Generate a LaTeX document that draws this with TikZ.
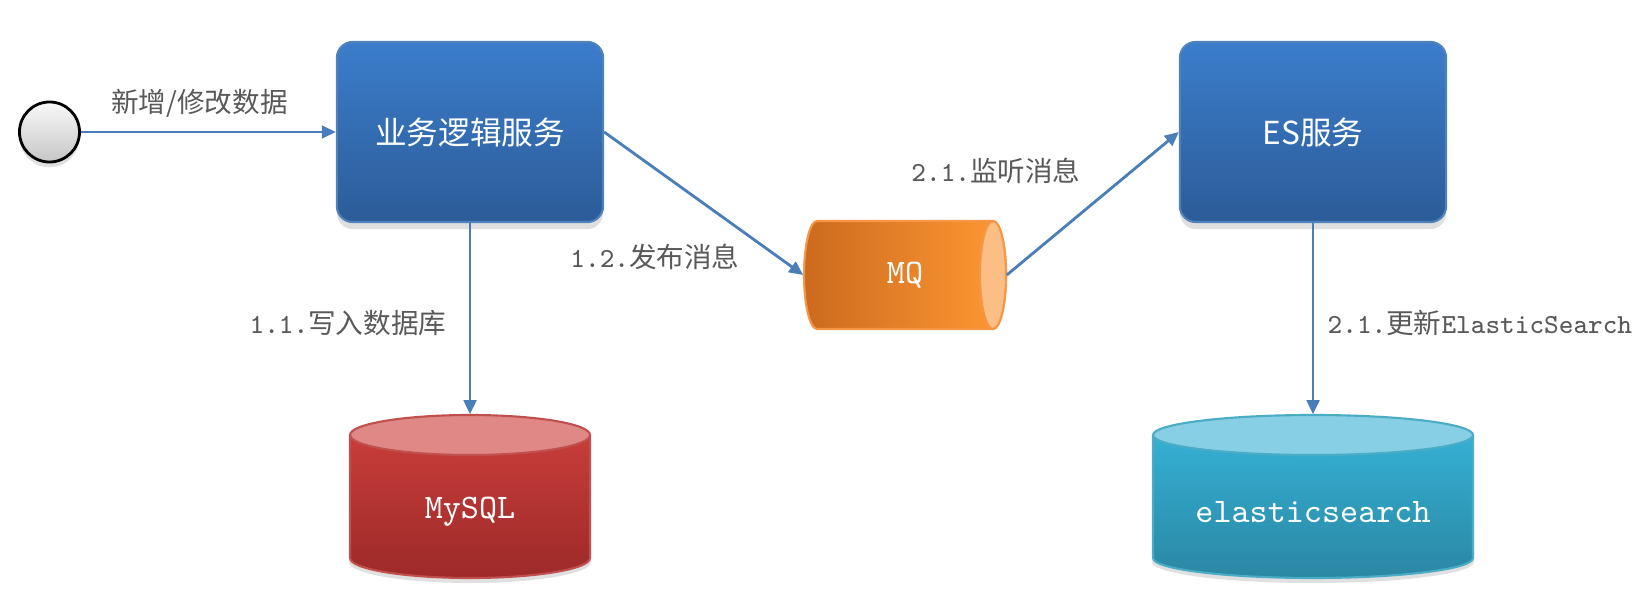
\documentclass[tikz,border=0pt]{standalone}
\usepackage{fontspec}
\newfontfamily\cjk{Noto Sans CJK SC}
\usetikzlibrary{arrows.meta,shadows}

\definecolor{linkblue}{HTML}{4A7EBB}
\definecolor{labelgray}{HTML}{595959}
\definecolor{svctop}{HTML}{3B7DCB}
\definecolor{svcbot}{HTML}{2C5C98}
\definecolor{svcline}{HTML}{4F81BD}
\definecolor{mqleft}{HTML}{CB6A1E}
\definecolor{mqright}{HTML}{FF9933}
\definecolor{mqcap}{HTML}{FBBF86}
\definecolor{mqline}{HTML}{F79646}
\definecolor{sqltop}{HTML}{C83D3A}
\definecolor{sqlbot}{HTML}{9C2A29}
\definecolor{sqlcap}{HTML}{E08886}
\definecolor{sqlline}{HTML}{C0504D}
\definecolor{esdbtop}{HTML}{35B0D4}
\definecolor{esdbbot}{HTML}{2A87A3}
\definecolor{esdbcap}{HTML}{86CFE5}
\definecolor{esdbline}{HTML}{4BACC6}

\begin{document}
\begin{tikzpicture}[x=0.01cm, y=0.01cm,
  flow/.style={draw=linkblue, line width=0.8pt, -{Triangle[length=4pt, width=3.6pt]}},
  lbl/.style={text=labelgray, inner sep=0pt, font=\ttfamily\fontsize{7.85}{9}\selectfont},
  svc/.style={rectangle, rounded corners=4.5pt, minimum width=2.66cm, minimum height=1.8cm,
    top color=svctop, bottom color=svcbot, draw=svcline, line width=0.6pt,
    text=white, font=\cjk\fontsize{9}{11}\selectfont,
    drop shadow={shadow xshift=0pt, shadow yshift=-2pt, opacity=0.25}},
  dbtext/.style={inner sep=0pt, text=white, font=\ttfamily\fontsize{9.8}{12}\selectfont}]

\useasboundingbox (0,0) rectangle (1652,615);

% Start point
\node[circle, minimum size=0.6cm, inner sep=0pt, top color=gray!5, bottom color=gray!45,
  draw=black, line width=0.8pt,
  drop shadow={shadow xshift=0pt, shadow yshift=-1.5pt, opacity=0.25}] (start) at (49.5,483) {};

% Services
\node[svc] (biz) at (470,483) {业务逻辑服务};
\node[svc] (es) at (1313,483) {ES服务};

% MQ cylinder
\shade[left color=mqleft, right color=mqright]
  (817,394) arc[start angle=90, end angle=270, x radius=13, y radius=54]
  -- (993,286) arc[start angle=-90, end angle=90, x radius=13, y radius=54] -- cycle;
\draw[mqline, line width=0.6pt]
  (817,394) arc[start angle=90, end angle=270, x radius=13, y radius=54]
  -- (993,286) arc[start angle=-90, end angle=90, x radius=13, y radius=54] -- cycle;
\filldraw[fill=mqcap, draw=mqline, line width=0.6pt] (993,340) ellipse[x radius=13, y radius=54];
\node[dbtext, minimum width=2.02cm, minimum height=1.08cm] (mq) at (905,340) {MQ};

% MySQL cylinder
\fill[black, opacity=0.12] (470,53) ellipse[x radius=121, y radius=21];
\shade[top color=sqltop, bottom color=sqlbot]
  (350,180) -- (350,57) arc[start angle=180, end angle=360, x radius=120, y radius=20]
  -- (590,180) -- cycle;
\draw[sqlline, line width=0.6pt]
  (350,180) -- (350,57) arc[start angle=180, end angle=360, x radius=120, y radius=20]
  -- (590,180);
\filldraw[fill=sqlcap, draw=sqlline, line width=0.6pt] (470,180) ellipse[x radius=120, y radius=20];
\node[dbtext, minimum width=2.4cm, minimum height=1.94cm] (mysql) at (470,103) {MySQL};

% elasticsearch cylinder
\fill[black, opacity=0.12] (1313,53) ellipse[x radius=161, y radius=21];
\shade[top color=esdbtop, bottom color=esdbbot]
  (1153,180) -- (1153,57) arc[start angle=180, end angle=360, x radius=160, y radius=20]
  -- (1473,180) -- cycle;
\draw[esdbline, line width=0.6pt]
  (1153,180) -- (1153,57) arc[start angle=180, end angle=360, x radius=160, y radius=20]
  -- (1473,180);
\filldraw[fill=esdbcap, draw=esdbline, line width=0.6pt] (1313,180) ellipse[x radius=160, y radius=20];
\node[dbtext, minimum width=3.2cm, minimum height=1.94cm] (esdb) at (1313,103) {elasticsearch};

% Connectors
\draw[flow] (start) -- (biz);
\draw[flow] (biz) -- (mysql);
\draw[flow] (biz.east) -- (mq.west);
\draw[flow] (mq.east) -- (es.west);
\draw[flow] (es) -- (esdb);

% Labels
\node[lbl] (lblnew) at (199.5,512) {\cjk 新增/修改数据};
\node[lbl] (lblwrite) at (348,292) {1.1.{\cjk 写入数据库}};
\node[lbl] (lblpub) at (655,358) {1.2.{\cjk 发布消息}};
\node[lbl] (lblsub) at (996,444) {2.1.{\cjk 监听消息}};
\node[lbl, anchor=west] (lblupd) at (1327,292) {2.1.{\cjk 更新}ElasticSearch};

\end{tikzpicture}
\end{document}
